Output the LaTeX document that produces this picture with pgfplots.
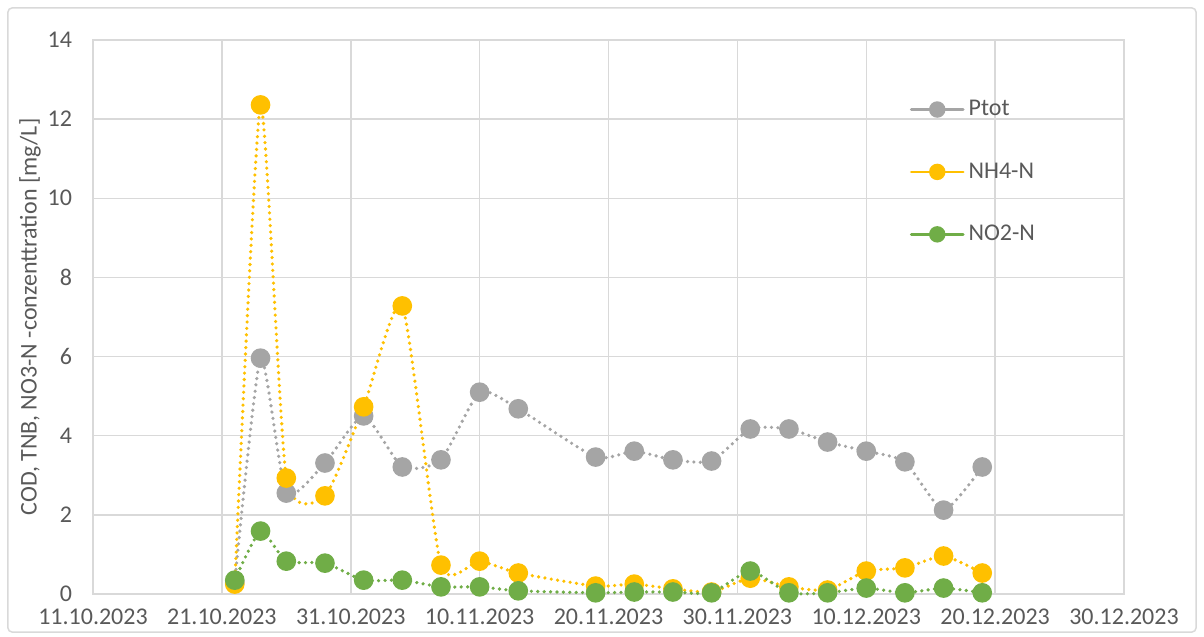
\documentclass[border=0pt]{standalone}
\usepackage{pgfplots}
\pgfplotsset{compat=1.18}
\usepackage{fontspec}
\setmainfont{Carlito}
\definecolor{ptot}{HTML}{A5A5A5}
\definecolor{nh4}{HTML}{FFC000}
\definecolor{no2}{HTML}{70AD47}
\definecolor{txt}{HTML}{595959}
\definecolor{gridc}{HTML}{D9D9D9}
\begin{document}
\begin{tikzpicture}
\useasboundingbox (-46.5bp,-21.5bp) rectangle (555.5bp,297bp);
\draw[gridc, line width=0.75bp, rounded corners=2bp] (-42.5bp,-19bp) rectangle (551.5bp,293bp);
\begin{axis}[
  at={(0,0)}, anchor=south west,
  width=515.5bp, height=277bp, scale only axis,
  xmin=0, xmax=80, ymin=0, ymax=14,
  clip=false,
  xtick={0,10,...,80},
  xticklabels={11.10.2023,21.10.2023,31.10.2023,10.11.2023,20.11.2023,30.11.2023,10.12.2023,20.12.2023,30.12.2023},
  ytick={0,2,...,14},
  grid=major,
  major grid style={gridc, line width=0.75bp},
  axis line style={gridc, line width=0.75bp},
  major tick length=0pt,
  /pgf/number format/assume math mode=true,
  tick label style={font=\fontsize{12bp}{14bp}\selectfont, text=txt},
  xticklabel style={yshift=-4bp},
  yticklabel style={xshift=-7bp},
  ylabel={COD, TNB, NO3-N -conzenttration [mg/L]},
  ylabel style={at={(axis description cs:-0.061,0.5)}, anchor=center, font=\fontsize{12bp}{14bp}\selectfont, text=txt},
  legend style={draw=none, fill=none, at={(rel axis cs:0.792,0.899)}, anchor=north west, inner sep=0pt, row sep=18bp, font=\fontsize{12bp}{14bp}\selectfont, text=txt},
  legend cell align=left,
  legend image code/.code={
    \draw[#1, solid, line width=1.3bp] (0bp,0bp) -- (26bp,0bp);
    \draw[#1, solid, mark size=3.2bp] plot coordinates {(13bp,0bp)};
  },
  every axis plot/.append style={smooth, tension=0.35, dash pattern=on 0bp off 3.2bp, line cap=round, line width=1.8bp, mark=*, mark size=4bp},
]
\addplot[ptot, mark options={solid, fill=ptot, draw=ptot}] coordinates {
(11,0.3) (13,5.96) (15,2.55) (18,3.31) (21,4.5) (24,3.21) (27,3.39) (30,5.1) (33,4.68) (39,3.46) (42,3.61) (45,3.39) (48,3.36) (51,4.17) (54,4.17) (57,3.84) (60,3.61) (63,3.34) (66,2.12) (69,3.21)
};
\addlegendentry{Ptot}
\addplot[nh4, mark options={solid, fill=nh4, draw=nh4}] coordinates {
(11,0.25) (13,12.36) (15,2.93) (18,2.48) (21,4.73) (24,7.28) (27,0.73) (30,0.83) (33,0.53) (39,0.2) (42,0.25) (45,0.13) (48,0.05) (51,0.4) (54,0.18) (57,0.1) (60,0.58) (63,0.66) (66,0.96) (69,0.53)
};
\addlegendentry{NH4-N}
\addplot[no2, mark options={solid, fill=no2, draw=no2}] coordinates {
(11,0.35) (13,1.59) (15,0.83) (18,0.78) (21,0.35) (24,0.35) (27,0.18) (30,0.18) (33,0.08) (39,0.03) (42,0.05) (45,0.05) (48,0.03) (51,0.58) (54,0.03) (57,0.03) (60,0.15) (63,0.03) (66,0.15) (69,0.03)
};
\addlegendentry{NO2-N}
\end{axis}
\end{tikzpicture}
\end{document}
